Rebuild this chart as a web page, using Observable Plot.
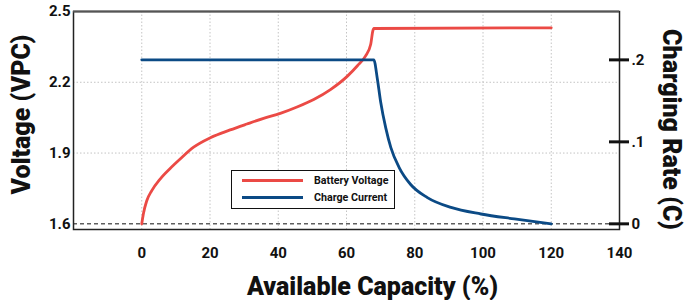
<!DOCTYPE html>
<html>
<head>
<meta charset="utf-8">
<script src="https://cdn.jsdelivr.net/npm/d3@7"></script>
<script src="https://cdn.jsdelivr.net/npm/@observablehq/plot@0.6"></script>
<style>
  html, body { margin: 0; padding: 0; background: #fff; }
  #wrap { position: relative; width: 685px; height: 300px; font-family: Roboto, "Liberation Sans", sans-serif; color: #111; }
  #legend { position: absolute; left: 231px; top: 170px; width: 164px; height: 39px; box-sizing: border-box;
            border: 1px solid #111; background: #fff; }
  .sw { position: absolute; left: 10px; width: 61px; height: 3px; }
  .lt { position: absolute; left: 82px; font: 700 10.7px Roboto, sans-serif; color: #111; line-height: 12px; white-space: nowrap; }
</style>
</head>
<body>
<div id="wrap"></div>
<script>
// ---- data ----
const seriesNames = ["Battery Voltage", "Charge Current"];
const seriesColors = ["#eb4a45", "#0b4a85"];

const voltCapacity = [0, 0.47, 1.47, 2.94, 5.38, 8.32, 11.25, 15.2, 20.1, 25.9, 30.8, 35.7, 40.6, 45.5, 50.4, 55.3, 60.2, 63.2, 65.6, 67.1, 67.7, 68.0, 120];
const voltage      = [1.6, 1.642, 1.698, 1.741, 1.790, 1.835, 1.875, 1.925, 1.965, 1.998, 2.023, 2.047, 2.068, 2.095, 2.127, 2.169, 2.225, 2.270, 2.312, 2.361, 2.417, 2.428, 2.431];

const rateCapacity = [0, 68.0, 69.0, 70.0, 71.5, 73.0, 75.4, 78.8, 83.7, 90.6, 99.4, 109.2, 120];
const chargeRate   = [0.2, 0.2, 0.178, 0.149, 0.117, 0.093, 0.069, 0.048, 0.032, 0.020, 0.012, 0.006, 0];

const xTicks = [0, 20, 40, 60, 80, 100, 120, 140];
const xGridTicks = [0, 20, 40, 60, 80, 100, 120];
const yTicks = [1.6, 1.9, 2.2, 2.5];
const yGridTicks = [1.9, 2.2];
const rateTicks = [0, 0.1, 0.2];
const rateLabels = ["0", ".1", ".2"];

const xTitle = "Available Capacity (%)";
const yTitle = "Voltage (VPC)";
const y2Title = "Charging Rate (C)";

// secondary axis mapping: rate -> voltage units
const vBase = 1.6, vPerRate = 3.475;
const rateToV = r => vBase + r * vPerRate;

const voltRows = voltCapacity.map((c, i) => ({c, v: voltage[i]}));
const rateRows = rateCapacity.map((c, i) => ({c, r: chargeRate[i]}));
const rateTickRows = rateTicks.map((r, i) => ({v: rateToV(r), label: rateLabels[i]}));

const chart = Plot.plot({
  width: 685,
  height: 300,
  marginLeft: 73,
  marginRight: 66,
  marginTop: 11,
  marginBottom: 71,
  style: {fontFamily: "Roboto, sans-serif", color: "#111", background: "#fff"},
  x: {domain: [-20, 140]},
  y: {domain: [1.576, 2.5]},
  marks: [
    Plot.ruleX(xGridTicks, {stroke: "#c4c4c4", strokeDasharray: "1.5,2", strokeWidth: 1}),
    Plot.ruleY(yGridTicks, {stroke: "#c4c4c4", strokeDasharray: "1.5,2", strokeWidth: 1}),
    Plot.ruleY([vBase], {stroke: "#111", strokeDasharray: "4,3", strokeWidth: 1}),
    Plot.line(voltRows, {x: "c", y: "v", stroke: seriesColors[0], strokeWidth: 2.8, curve: "monotone-x"}),
    Plot.line(rateRows, {x: "c", y: d => rateToV(d.r), stroke: seriesColors[1], strokeWidth: 2.8, curve: "monotone-x"}),
    Plot.frame({stroke: "#222", strokeWidth: 1.5}),
    Plot.ruleY([2.5], {stroke: "#555", strokeWidth: 2}),
    Plot.axisX(xTicks, {tickSize: 0, tickPadding: 18, fontSize: 15, fontWeight: 700, label: null}),
    Plot.axisY(yTicks, {anchor: "left", tickSize: 0, tickPadding: 3, fontSize: 15, fontWeight: 700, label: null, tickFormat: d3.format(".1f")}),
    Plot.axisY(rateTickRows.map(d => d.v), {anchor: "right", tickSize: 20, dx: -11, tickPadding: 3, strokeWidth: 3,
      fontSize: 15, fontWeight: 700, label: null,
      tickFormat: v => rateLabels[rateTickRows.findIndex(d => Math.abs(d.v - v) < 1e-9)]}),
    Plot.text([yTitle], {text: d => d, frameAnchor: "left", dx: -52, dy: -6, rotate: -90, fontSize: 25, fontWeight: 900, textAnchor: "middle", lineAnchor: "middle"}),
    Plot.text([y2Title], {text: d => d, frameAnchor: "right", dx: 51, dy: 9, rotate: 90, fontSize: 25, fontWeight: 900, textAnchor: "middle", lineAnchor: "middle"}),
    Plot.text([xTitle], {text: d => d, frameAnchor: "bottom", dx: 26, dy: 57, fontSize: 25, fontWeight: 900, textAnchor: "middle", lineAnchor: "middle"})
  ]
});

const wrap = document.getElementById("wrap");
wrap.appendChild(chart);

// legend overlay
const legend = document.createElement("div");
legend.id = "legend";
const rowTops = [8, 25];
seriesNames.forEach((name, i) => {
  const sw = document.createElement("div");
  sw.className = "sw";
  sw.style.top = rowTops[i] + "px";
  sw.style.background = seriesColors[i];
  legend.appendChild(sw);
  const t = document.createElement("div");
  t.className = "lt";
  t.style.top = (rowTops[i] - 4) + "px";
  t.textContent = name;
  legend.appendChild(t);
});
wrap.appendChild(legend);
</script>
</body>
</html>
